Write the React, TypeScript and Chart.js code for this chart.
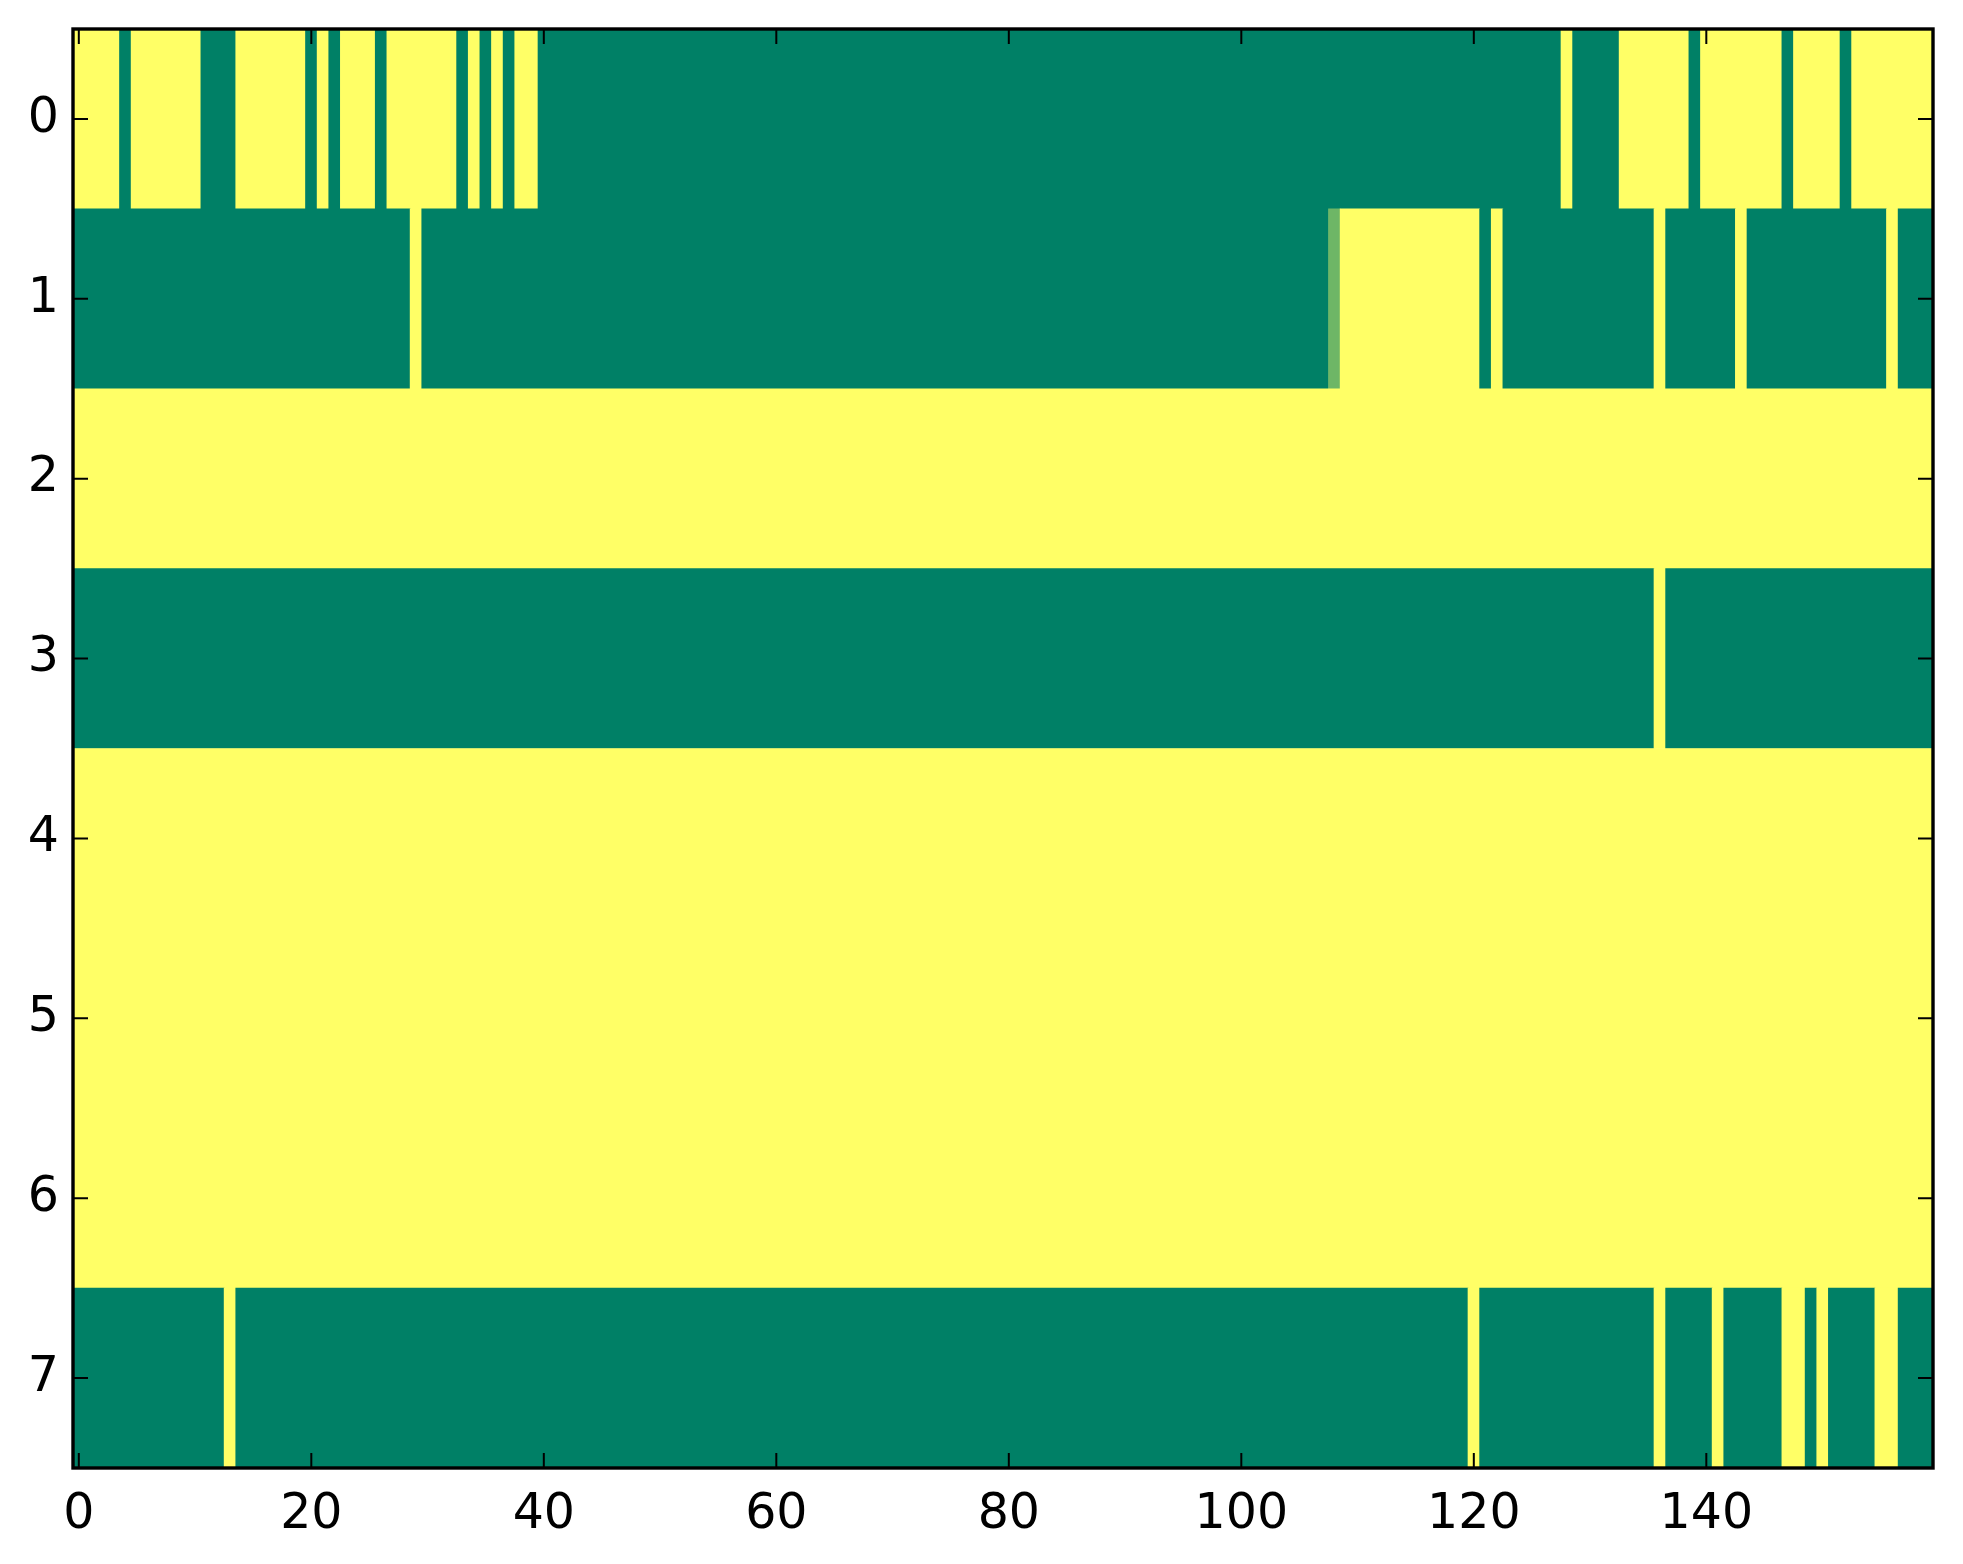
import React, { useEffect, useRef } from "react";
import { Chart, registerables } from "chart.js";

Chart.register(...registerables);

// ---- data ----
const rowLabels = [0, 1, 2, 3, 4, 5, 6, 7];
const columnCount = 160;
const xTickValues = [0, 20, 40, 60, 80, 100, 120, 140];
const yTickValues = [0, 1, 2, 3, 4, 5, 6, 7];

// runs of equal cells per row: [firstColumn, lastColumn, value]
const row0 = [
  [0, 3, 1], [4, 4, 0], [5, 10, 1], [11, 13, 0], [14, 19, 1], [20, 20, 0],
  [21, 21, 1], [22, 22, 0], [23, 25, 1], [26, 26, 0], [27, 32, 1], [33, 33, 0],
  [34, 34, 1], [35, 35, 0], [36, 36, 1], [37, 37, 0], [38, 39, 1], [40, 127, 0],
  [128, 128, 1], [129, 132, 0], [133, 138, 1], [139, 139, 0], [140, 146, 1],
  [147, 147, 0], [148, 151, 1], [152, 152, 0], [153, 159, 1],
];
const row1 = [
  [0, 28, 0], [29, 29, 1], [30, 107, 0], [108, 108, 0.43], [109, 120, 1],
  [121, 121, 0], [122, 122, 1], [123, 135, 0], [136, 136, 1], [137, 142, 0],
  [143, 143, 1], [144, 155, 0], [156, 156, 1], [157, 159, 0],
];
const row2 = [[0, 159, 1]];
const row3 = [[0, 135, 0], [136, 136, 1], [137, 159, 0]];
const row4 = [[0, 159, 1]];
const row5 = [[0, 159, 1]];
const row6 = [[0, 159, 1]];
const row7 = [
  [0, 12, 0], [13, 13, 1], [14, 119, 0], [120, 120, 1], [121, 135, 0],
  [136, 136, 1], [137, 140, 0], [141, 141, 1], [142, 146, 0], [147, 148, 1],
  [149, 149, 0], [150, 150, 1], [151, 154, 0], [155, 156, 1], [157, 159, 0],
];
const rows = [row0, row1, row2, row3, row4, row5, row6, row7];

// matplotlib "summer" colormap
function summer(v: number): string {
  const r = Math.round(255 * v);
  const g = Math.round(255 * (0.5 + 0.5 * v));
  const b = Math.round(255 * 0.4);
  return `rgb(${r},${g},${b})`;
}

export default function App() {
  const ref = useRef<HTMLCanvasElement>(null);

  useEffect(() => {
    document.body.style.margin = "0";
    const data: any[] = [];
    const colors: string[] = [];
    rows.forEach((runs, r) => {
      runs.forEach(([a, b, v]) => {
        data.push({ x: [a - 0.5, b + 0.5], y: rowLabels[r] });
        colors.push(summer(v));
      });
    });

    const framePlugin = {
      id: "mplFrame",
      afterDraw(chart: any) {
        const { ctx, chartArea: ca, scales } = chart;
        const tl = 15;
        ctx.save();
        ctx.strokeStyle = "#000";
        ctx.lineWidth = 2;
        ctx.beginPath();
        for (const t of scales.x.ticks) {
          const px = scales.x.getPixelForValue(t.value);
          ctx.moveTo(px, ca.bottom);
          ctx.lineTo(px, ca.bottom - tl);
          ctx.moveTo(px, ca.top);
          ctx.lineTo(px, ca.top + tl);
        }
        for (const t of scales.y.ticks) {
          const py = scales.y.getPixelForValue(t.value);
          ctx.moveTo(ca.left, py);
          ctx.lineTo(ca.left + tl, py);
          ctx.moveTo(ca.right, py);
          ctx.lineTo(ca.right - tl, py);
        }
        ctx.stroke();
        ctx.lineWidth = 3.4;
        ctx.strokeRect(ca.left, ca.top, ca.right - ca.left, ca.bottom - ca.top);
        ctx.restore();
      },
    };

    const tickFont = { family: "'DejaVu Sans'", size: 49 };

    const chart = new Chart(ref.current as HTMLCanvasElement, {
      type: "bar",
      data: {
        datasets: [
          {
            data,
            backgroundColor: colors,
            borderWidth: 0,
            categoryPercentage: 1,
            barPercentage: 1,
          } as any,
        ],
      },
      options: {
        indexAxis: "y",
        animation: false,
        responsive: false,
        devicePixelRatio: 1,
        layout: { padding: { left: 0, top: 29, right: 30, bottom: 0 } },
        plugins: { legend: { display: false }, tooltip: { enabled: false } },
        scales: {
          x: {
            type: "linear",
            position: "bottom",
            offset: false,
            min: -0.5,
            max: columnCount - 0.5,
            grid: { display: false, drawTicks: false, offset: false },
            border: { display: false },
            afterBuildTicks: (s: any) => {
              s.ticks = xTickValues.map((v) => ({ value: v }));
            },
            afterFit: (s: any) => {
              s.height = 96;
              s.paddingLeft = 0;
              s.paddingRight = 0;
            },
            ticks: {
              font: tickFont,
              color: "#000",
              padding: 18,
              maxRotation: 0,
              autoSkip: false,
              callback: (v: any) => String(v),
            },
          },
          y: {
            type: "linear",
            reverse: true,
            offset: false,
            min: -0.5,
            max: rowLabels.length - 0.5,
            grid: { display: false, drawTicks: false, offset: false },
            border: { display: false },
            afterBuildTicks: (s: any) => {
              s.ticks = yTickValues.map((v) => ({ value: v }));
            },
            afterFit: (s: any) => {
              s.width = 73;
              s.paddingTop = 0;
              s.paddingBottom = 0;
            },
            ticks: {
              font: tickFont,
              color: "#000",
              padding: 14,
              autoSkip: false,
              callback: (v: any) => String(v),
            },
          },
        },
      } as any,
      plugins: [framePlugin],
    });

    return () => chart.destroy();
  }, []);

  return <canvas ref={ref} width={1963} height={1564} style={{ display: "block" }} />;
}
